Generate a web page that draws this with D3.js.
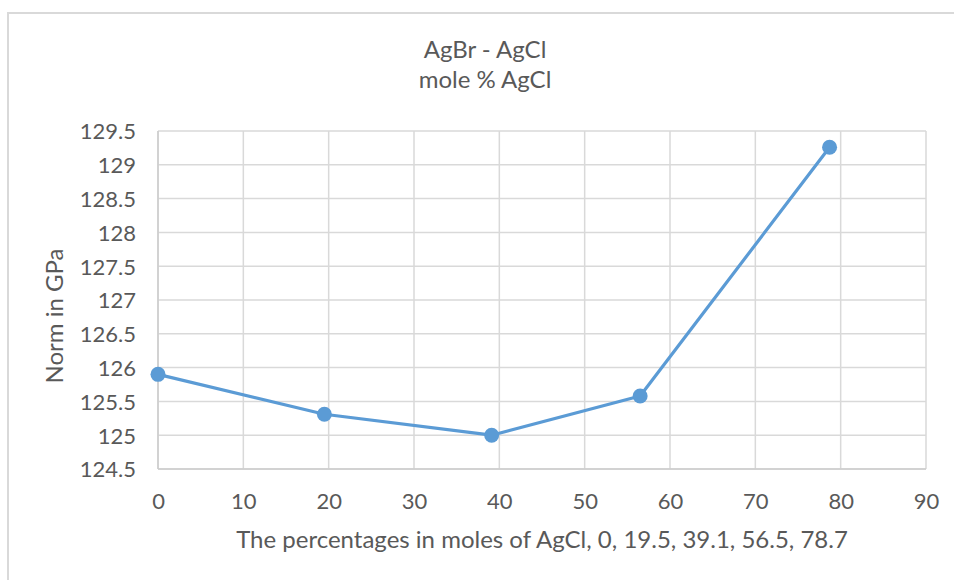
<!DOCTYPE html>
<html>
<head>
<meta charset="utf-8">
<script src="https://cdn.jsdelivr.net/npm/d3@7/dist/d3.min.js"></script>
<style>
  html, body { margin: 0; padding: 0; background: #ffffff; }
  svg { display: block; }
  text { font-family: Lato, "Open Sans", sans-serif; fill: #595959; }
</style>
</head>
<body>
<svg id="chart" width="954" height="580"></svg>
<script>
// Composition (mole % AgCl) and the corresponding norm values in GPa
const molePercent = [0, 19.5, 39.1, 56.5, 78.7];
const normGPa = [125.9, 125.31, 125.0, 125.58, 129.26];

const xTicks = [0, 10, 20, 30, 40, 50, 60, 70, 80, 90];
const yTicks = [124.5, 125, 125.5, 126, 126.5, 127, 127.5, 128, 128.5, 129, 129.5];

const titleLines = ["AgBr - AgCl", "mole % AgCl"];
const xTitle = "The percentages in moles of AgCl, 0, 19.5, 39.1, 56.5, 78.7";
const yTitle = "Norm in GPa";

const svg = d3.select("#chart");
const W = 954, H = 580;
const plot = { left: 158, right: 926, top: 131, bottom: 469 };

// Outer chart frame
svg.append("rect")
  .attr("x", 8).attr("y", 13)
  .attr("width", 1000).attr("height", 700)
  .attr("fill", "#ffffff")
  .attr("stroke", "#d9d9d9")
  .attr("stroke-width", 2);

const x = d3.scaleLinear().domain([0, 90]).range([plot.left, plot.right]);
const y = d3.scaleLinear().domain([124.5, 129.5]).range([plot.bottom, plot.top]);

// Gridlines
const grid = svg.append("g").attr("stroke", "#d9d9d9").attr("stroke-width", 1.5);
grid.selectAll("line.h").data(yTicks).join("line")
  .attr("class", "h")
  .attr("x1", plot.left).attr("x2", plot.right)
  .attr("y1", d => y(d)).attr("y2", d => y(d));
grid.selectAll("line.v").data(xTicks).join("line")
  .attr("class", "v")
  .attr("x1", d => x(d)).attr("x2", d => x(d))
  .attr("y1", plot.top).attr("y2", plot.bottom);

// Axis lines
svg.append("line")
  .attr("x1", plot.left).attr("x2", plot.right)
  .attr("y1", plot.bottom).attr("y2", plot.bottom)
  .attr("stroke", "#cccccc").attr("stroke-width", 1.5);
svg.append("line")
  .attr("x1", plot.left).attr("x2", plot.left)
  .attr("y1", plot.top).attr("y2", plot.bottom)
  .attr("stroke", "#cccccc").attr("stroke-width", 1.5);

// Axes (labels only, lines drawn above)
const yAxis = d3.axisLeft(y).tickValues(yTicks).tickSize(0).tickPadding(22)
  .tickFormat(d => String(d));
const gy = svg.append("g").attr("transform", `translate(${plot.left},0)`).call(yAxis);
gy.select(".domain").remove();
gy.selectAll("text").style("font-size", "22px").attr("fill", "#595959")
  .attr("font-family", null).attr("dy", "0.36em");

const xAxis = d3.axisBottom(x).tickValues(xTicks).tickSize(0).tickPadding(24)
  .tickFormat(d => String(d));
const gx = svg.append("g").attr("transform", `translate(0,${plot.bottom})`).call(xAxis);
gx.select(".domain").remove();
gx.selectAll("text").style("font-size", "22px").attr("fill", "#595959")
  .attr("font-family", null);

// Series line and markers
const line = d3.line().x((d, i) => x(molePercent[i])).y(d => y(d));
svg.append("path")
  .datum(normGPa)
  .attr("d", line)
  .attr("fill", "none")
  .attr("stroke", "#5b9bd5")
  .attr("stroke-width", 3.2)
  .attr("stroke-linejoin", "round");
svg.selectAll("circle.pt").data(normGPa).join("circle")
  .attr("class", "pt")
  .attr("cx", (d, i) => x(molePercent[i]))
  .attr("cy", d => y(d))
  .attr("r", 7.5)
  .attr("fill", "#5b9bd5");

// Titles
svg.append("text")
  .attr("x", 485).attr("y", 58)
  .attr("text-anchor", "middle")
  .style("font-size", "24px")
  .text(titleLines[0]);
svg.append("text")
  .attr("x", 485).attr("y", 88)
  .attr("text-anchor", "middle")
  .style("font-size", "24px")
  .text(titleLines[1]);

svg.append("text")
  .attr("x", (plot.left + plot.right) / 2).attr("y", 548)
  .attr("text-anchor", "middle")
  .style("font-size", "24px")
  .text(xTitle);

svg.append("text")
  .attr("transform", "translate(63,316) rotate(-90)")
  .attr("text-anchor", "middle")
  .style("font-size", "24px")
  .text(yTitle);
</script>
</body>
</html>
